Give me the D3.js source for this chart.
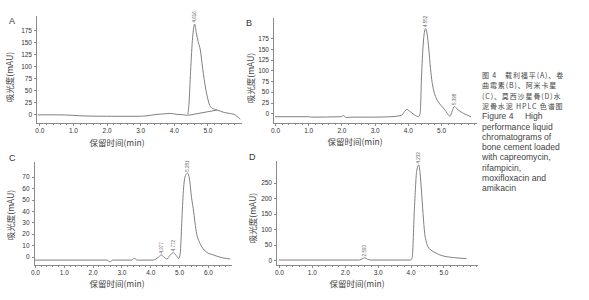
<!DOCTYPE html>
<html>
<head>
<meta charset="utf-8">
<title>HPLC</title>
<script src="https://cdn.jsdelivr.net/npm/d3@7"></script>
<style>
  body { margin: 0; background: #fff; }
  svg { font-family: "Liberation Sans", Arial, "Noto Sans CJK SC", sans-serif; }
  .ax path, .ax line { stroke: #8a8a8a; stroke-width: 1; shape-rendering: crispEdges; }
  .ax text { fill: #333; font-size: 6.5px; }
  .trace { fill: none; stroke: #808080; stroke-width: 1; }
  .ttl { fill: #444; font-size: 8.5px; font-family: "Noto Sans CJK SC", sans-serif; }
  .cap { fill: #444; font-size: 8.6px; font-family: "Liberation Sans", Arial, sans-serif; }
  .capzh { fill: #444; font-size: 7px; font-family: "Noto Sans CJK SC", sans-serif; letter-spacing: 0.9px; }
</style>
</head>
<body>
<div class="container"></div>
<script>
// retention time (min), absorbance (mAU)
var traceA = [[-0.05,-1],[0.5,-1],[1.0,-2],[1.2,-3],[2.0,-4],[3.0,-4],[3.2,-3],[3.5,0],[3.7,1],[3.9,2],[4.1,0],[4.3,-1],
  [4.4,-2],[4.45,20],[4.5,90],[4.56,160],[4.62,188],[4.67,170],[4.73,150],[4.79,134],[4.86,95],[4.94,57],[5.02,30],[5.09,16],
  [5.2,11],[5.29,9],[5.5,4],[5.65,2],[5.79,0],[5.88,-4],[5.98,-10]];
var baseA = [[4.43,-2],[5.29,9]];
var peaksA = [[4.62,188,"4.616"]];

var traceB = [[0,-8],[1.0,-8],[1.1,-9],[2.0,-8],[2.05,-5],[2.15,-10],[2.3,-9],[3.0,-9],[3.5,-8],[3.8,-5],[3.9,4],[3.97,9],
  [4.05,5],[4.2,-4],[4.32,-8],[4.37,0],[4.41,85],[4.46,160],[4.53,198],[4.58,185],[4.63,150],[4.68,105],[4.73,72],[4.78,52],
  [4.85,36],[4.92,26],[5.0,18],[5.07,12],[5.15,4],[5.22,-4],[5.27,-7],[5.33,5],[5.4,16],[5.48,10],[5.6,3],[5.75,-3],[5.9,-8]];
var peaksB = [[4.53,198,"4.552"],[5.4,16,"5.398"]];

var traceC = [[0,-3],[2.5,-3],[2.6,-4.5],[2.7,-3],[3.35,-3],[3.45,-1.5],[3.55,-3],[4.1,-3],[4.2,-2],[4.3,0],[4.38,1.5],
  [4.48,-0.5],[4.58,-2],[4.68,1],[4.8,3.5],[4.9,1],[4.98,-1.5],[5.04,3],[5.09,29],[5.15,58],[5.22,71],[5.3,73],[5.36,68],
  [5.43,52],[5.49,42],[5.55,30],[5.61,20],[5.7,13],[5.79,8.5],[5.95,4],[6.19,1.5],[6.5,-1],[6.77,-2]];
var peaksC = [[4.38,1.5,"4.377"],[4.8,3.5,"4.772"],[5.3,73,"5.281"]];

var traceD = [[0,0],[2.45,0],[2.53,4],[2.61,7],[2.7,2],[2.8,0],[4.0,0],[4.05,8],[4.12,172],[4.19,290],[4.25,307],[4.29,280],
  [4.33,226],[4.38,150],[4.43,86],[4.48,58],[4.53,43],[4.65,30],[4.78,22],[4.93,15],[5.09,11],[5.3,8],[5.5,6],[5.7,5]];
var peaksD = [[2.61,7,"2.593"],[4.25,307,"4.233"]];

var yTicksA = [0,25,50,75,100,125,150,175];
var yTicksB = [0,25,50,75,100,125,150,175];
var yTicksC = [0,10,20,30,40,50,60,70];
var yTicksD = [0,50,100,150,200,250];
var xTicks5 = [0,1,2,3,4,5];
var xTicks6 = [0,1,2,3,4,5,6];

var yTitle = "吸光度(mAU)";
var xTitle = "保留时间(min)";
var captionZh = ["图 4　载利福平(A)、卷", "曲霉素(B)、阿米卡星", "(C)、莫西沙星骨(D)水", "泥骨水泥 HPLC 色谱图"];
var captionEn = ["Figure 4　 High", "performance liquid", "chromatograms of", "bone cement loaded", "with capreomycin,",
  "rifampicin,", "moxifloxacin and", "amikacin"];

var svg = d3.select('.container').append('svg')
  .attr('width', 589).attr('height', 300);

var panels = [
  {name:"A", trace:traceA, base:baseA, peaks:peaksA, yt:yTicksA, xt:xTicks5, xd:[-0.1,6.0], yd:[-18,207],
   l:36, r:241, t:15, b:123, letter:[9,24], yl:[10,77], xl:[117,146]},
  {name:"B", trace:traceB, base:null, peaks:peaksB, yt:yTicksB, xt:xTicks5, xd:[-0.06,6.05], yd:[-22.7,225],
   l:273, r:476, t:17, b:123, letter:[246,26], yl:[251,78], xl:[355,145]},
  {name:"C", trace:traceC, base:null, peaks:peaksC, yt:yTicksC, xt:xTicks6, xd:[-0.05,6.8], yd:[-7.3,83.7],
   l:33.5, r:231, t:161, b:265, letter:[9,161], yl:[11,215], xl:[117,287]},
  {name:"D", trace:traceD, base:null, peaks:peaksD, yt:yTicksD, xt:xTicks5, xd:[-0.09,6.02], yd:[-16,323],
   l:276, r:477, t:160, b:265, letter:[249,160], yl:[252.5,218], xl:[357,287]}
];

panels.forEach(function(p) {
  var x = d3.scaleLinear().domain(p.xd).range([p.l, p.r]);
  var y = d3.scaleLinear().domain(p.yd).range([p.b, p.t]);
  var g = svg.append('g');

  // minor ticks every 0.2 min
  g.append('g').attr('class', 'ax')
    .attr('transform', `translate(0,${p.b})`)
    .call(d3.axisBottom(x).tickValues(d3.range(0, p.xd[1], 0.2)).tickSize(2).tickFormat('').tickSizeOuter(0));

  g.append('g').attr('class', 'ax')
    .attr('transform', `translate(0,${p.b})`)
    .call(d3.axisBottom(x).tickValues(p.xt).tickSize(3).tickPadding(2).tickSizeOuter(0));

  g.append('g').attr('class', 'ax')
    .attr('transform', `translate(${p.l},0)`)
    .call(d3.axisLeft(y).tickValues(p.yt).tickSize(2).tickPadding(2).tickSizeOuter(0));

  var line = d3.line().x(d => x(d[0])).y(d => y(d[1])).curve(d3.curveMonotoneX);
  g.append('path').attr('class', 'trace').attr('d', line(p.trace));
  if (p.base) g.append('path').attr('class', 'trace').attr('d', d3.line().x(d => x(d[0])).y(d => y(d[1]))(p.base));

  // peak retention labels
  g.selectAll('.pk').data(p.peaks).enter().append('text')
    .attr('class', 'pk')
    .attr('transform', d => `translate(${x(d[0]) + 1.5},${y(d[1]) - 1.5}) rotate(-90)`)
    .attr('font-size', 4.5).attr('fill', '#666')
    .text(d => d[2]);

  g.append('text').attr('x', p.letter[0]).attr('y', p.letter[1])
    .attr('font-size', 9).attr('fill', '#333').text(p.name);

  g.append('text').attr('class', 'ttl')
    .attr('transform', `translate(${p.yl[0] + 3},${p.yl[1]}) rotate(-90)`)
    .attr('text-anchor', 'middle').text(yTitle);

  g.append('text').attr('class', 'ttl')
    .attr('x', p.xl[0]).attr('y', p.xl[1])
    .attr('text-anchor', 'middle').text(xTitle);
});

var cap = svg.append('g');
cap.selectAll('.capzh').data(captionZh).enter().append('text')
  .attr('class', 'capzh')
  .attr('x', 482).attr('y', (d, i) => 78 + 10.3 * i)
  .text(d => d);
cap.selectAll('.cap').data(captionEn).enter().append('text')
  .attr('class', 'cap')
  .attr('x', 482).attr('y', (d, i) => 78 + 10.3 * (i + captionZh.length))
  .text(d => d);
</script>
</body>
</html>
